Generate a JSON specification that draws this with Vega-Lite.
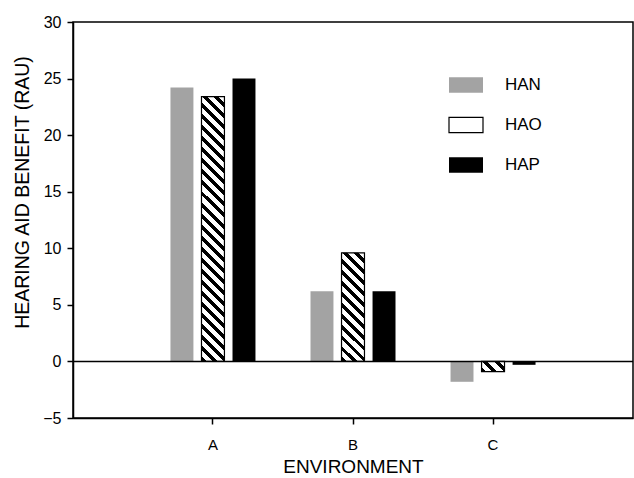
{
  "$schema": "https://vega.github.io/schema/vega-lite/v6.json",
  "width": 560,
  "height": 396,
  "autosize": {"type": "none"},
  "padding": {"left": 73, "top": 22, "right": 1, "bottom": 60},
  "background": "white",
  "config": {
    "view": {"stroke": "black", "strokeWidth": 1.5},
    "font": "Liberation Sans",
    "axis": {
      "domainColor": "black", "domainWidth": 1.5, "tickColor": "black", "tickWidth": 1.5,
      "labelColor": "black", "titleColor": "black", "labelFont": "Liberation Sans", "titleFont": "Liberation Sans",
      "titleFontWeight": "normal", "grid": false
    }
  },
  "data": {"values": [
    {"env": "A", "aid": "HAN", "value": 24.2},
    {"env": "A", "aid": "HAO", "value": 23.4},
    {"env": "A", "aid": "HAP", "value": 25.0},
    {"env": "B", "aid": "HAN", "value": 6.2},
    {"env": "B", "aid": "HAO", "value": 9.6},
    {"env": "B", "aid": "HAP", "value": 6.2},
    {"env": "C", "aid": "HAN", "value": -1.8},
    {"env": "C", "aid": "HAO", "value": -0.9},
    {"env": "C", "aid": "HAP", "value": -0.3}
  ]},
  "encoding": {
    "x": {"field": "env", "type": "nominal",
      "scale": {"paddingInner": 0.393, "paddingOuter": 0.696},
      "axis": {"title": "ENVIRONMENT", "labelAngle": 0, "labelFontSize": 15, "titleFontSize": 19, "tickSize": 6, "labelPadding": 13, "titlePadding": 5}},
    "xOffset": {"field": "aid", "type": "nominal", "scale": {"domain": ["HAN", "HAO", "HAP"], "paddingInner": 0.26, "paddingOuter": 0}},
    "y": {"field": "value", "type": "quantitative",
      "scale": {"domain": [-5, 30], "nice": false, "zero": false},
      "axis": {"title": "HEARING AID BENEFIT (RAU)", "values": [-5, 0, 5, 10, 15, 20, 25, 30], "labelFontSize": 16, "tickSize": 6, "labelPadding": 6, "titleFontSize": 19.5, "titleX": -51, "titleY": 170, "titleBaseline": "middle", "titleAlign": "center", "titleAngle": -90}}
  },
  "layer": [
    {
      "mark": {"type": "bar"},
      "encoding": {
        "fill": {"field": "aid", "type": "nominal",
          "scale": {"domain": ["HAN", "HAO", "HAP"], "range": ["#a3a3a3", "#ffffff", "#000000"]},
          "legend": {
            "title": null, "orient": "none", "legendX": 375, "legendY": 45,
            "symbolType": "M-1,-0.45H1V0.45H-1Z", "symbolSize": 1156, "symbolStrokeWidth": 1.2,
            "labelFont": "Liberation Sans", "labelFontSize": 17, "labelColor": "black", "labelOffset": 21,
            "rowPadding": 11,
            "encode": {"symbols": {"update": {
              "stroke": {"signal": "datum.value === 'HAO' ? 'black' : 'transparent'"}
            }}}
          }
        }
      }
    },
    {
      "transform": [{"filter": "datum.aid === 'HAO' && datum.env === 'A'"}],
      "mark": {"type": "bar", "stroke": "black", "strokeWidth": 1.2, "fill": {"gradient": "linear", "x1": 0, "y1": 1, "x2": 0.0933, "y2": -0.0784, "stops": [
        {"offset": 0, "color": "#000"}, {"offset": 0.01731, "color": "#000"}, {"offset": 0.01731, "color": "#fff"}, {"offset": 0.03846, "color": "#fff"},
        {"offset": 0.03846, "color": "#000"}, {"offset": 0.05577, "color": "#000"}, {"offset": 0.05577, "color": "#fff"}, {"offset": 0.07692, "color": "#fff"},
        {"offset": 0.07692, "color": "#000"}, {"offset": 0.09423, "color": "#000"}, {"offset": 0.09423, "color": "#fff"}, {"offset": 0.11538, "color": "#fff"},
        {"offset": 0.11538, "color": "#000"}, {"offset": 0.13269, "color": "#000"}, {"offset": 0.13269, "color": "#fff"}, {"offset": 0.15385, "color": "#fff"},
        {"offset": 0.15385, "color": "#000"}, {"offset": 0.17115, "color": "#000"}, {"offset": 0.17115, "color": "#fff"}, {"offset": 0.19231, "color": "#fff"},
        {"offset": 0.19231, "color": "#000"}, {"offset": 0.20962, "color": "#000"}, {"offset": 0.20962, "color": "#fff"}, {"offset": 0.23077, "color": "#fff"},
        {"offset": 0.23077, "color": "#000"}, {"offset": 0.24808, "color": "#000"}, {"offset": 0.24808, "color": "#fff"}, {"offset": 0.26923, "color": "#fff"},
        {"offset": 0.26923, "color": "#000"}, {"offset": 0.28654, "color": "#000"}, {"offset": 0.28654, "color": "#fff"}, {"offset": 0.30769, "color": "#fff"},
        {"offset": 0.30769, "color": "#000"}, {"offset": 0.325, "color": "#000"}, {"offset": 0.325, "color": "#fff"}, {"offset": 0.34615, "color": "#fff"},
        {"offset": 0.34615, "color": "#000"}, {"offset": 0.36346, "color": "#000"}, {"offset": 0.36346, "color": "#fff"}, {"offset": 0.38462, "color": "#fff"},
        {"offset": 0.38462, "color": "#000"}, {"offset": 0.40192, "color": "#000"}, {"offset": 0.40192, "color": "#fff"}, {"offset": 0.42308, "color": "#fff"},
        {"offset": 0.42308, "color": "#000"}, {"offset": 0.44038, "color": "#000"}, {"offset": 0.44038, "color": "#fff"}, {"offset": 0.46154, "color": "#fff"},
        {"offset": 0.46154, "color": "#000"}, {"offset": 0.47885, "color": "#000"}, {"offset": 0.47885, "color": "#fff"}, {"offset": 0.5, "color": "#fff"},
        {"offset": 0.5, "color": "#000"}, {"offset": 0.51731, "color": "#000"}, {"offset": 0.51731, "color": "#fff"}, {"offset": 0.53846, "color": "#fff"},
        {"offset": 0.53846, "color": "#000"}, {"offset": 0.55577, "color": "#000"}, {"offset": 0.55577, "color": "#fff"}, {"offset": 0.57692, "color": "#fff"},
        {"offset": 0.57692, "color": "#000"}, {"offset": 0.59423, "color": "#000"}, {"offset": 0.59423, "color": "#fff"}, {"offset": 0.61538, "color": "#fff"},
        {"offset": 0.61538, "color": "#000"}, {"offset": 0.63269, "color": "#000"}, {"offset": 0.63269, "color": "#fff"}, {"offset": 0.65385, "color": "#fff"},
        {"offset": 0.65385, "color": "#000"}, {"offset": 0.67115, "color": "#000"}, {"offset": 0.67115, "color": "#fff"}, {"offset": 0.69231, "color": "#fff"},
        {"offset": 0.69231, "color": "#000"}, {"offset": 0.70962, "color": "#000"}, {"offset": 0.70962, "color": "#fff"}, {"offset": 0.73077, "color": "#fff"},
        {"offset": 0.73077, "color": "#000"}, {"offset": 0.74808, "color": "#000"}, {"offset": 0.74808, "color": "#fff"}, {"offset": 0.76923, "color": "#fff"},
        {"offset": 0.76923, "color": "#000"}, {"offset": 0.78654, "color": "#000"}, {"offset": 0.78654, "color": "#fff"}, {"offset": 0.80769, "color": "#fff"},
        {"offset": 0.80769, "color": "#000"}, {"offset": 0.825, "color": "#000"}, {"offset": 0.825, "color": "#fff"}, {"offset": 0.84615, "color": "#fff"},
        {"offset": 0.84615, "color": "#000"}, {"offset": 0.86346, "color": "#000"}, {"offset": 0.86346, "color": "#fff"}, {"offset": 0.88462, "color": "#fff"},
        {"offset": 0.88462, "color": "#000"}, {"offset": 0.90192, "color": "#000"}, {"offset": 0.90192, "color": "#fff"}, {"offset": 0.92308, "color": "#fff"},
        {"offset": 0.92308, "color": "#000"}, {"offset": 0.94038, "color": "#000"}, {"offset": 0.94038, "color": "#fff"}, {"offset": 0.96154, "color": "#fff"},
        {"offset": 0.96154, "color": "#000"}, {"offset": 0.97885, "color": "#000"}, {"offset": 0.97885, "color": "#fff"}, {"offset": 1, "color": "#fff"}
      ]}}
    },
    {
      "transform": [{"filter": "datum.aid === 'HAO' && datum.env === 'B'"}],
      "mark": {"type": "bar", "stroke": "black", "strokeWidth": 1.2, "fill": {"gradient": "linear", "x1": 0, "y1": 1, "x2": 0.2445, "y2": -0.1593, "stops": [
        {"offset": 0, "color": "#000"}, {"offset": 0.0375, "color": "#000"}, {"offset": 0.0375, "color": "#fff"}, {"offset": 0.08333, "color": "#fff"},
        {"offset": 0.08333, "color": "#000"}, {"offset": 0.12083, "color": "#000"}, {"offset": 0.12083, "color": "#fff"}, {"offset": 0.16667, "color": "#fff"},
        {"offset": 0.16667, "color": "#000"}, {"offset": 0.20417, "color": "#000"}, {"offset": 0.20417, "color": "#fff"}, {"offset": 0.25, "color": "#fff"},
        {"offset": 0.25, "color": "#000"}, {"offset": 0.2875, "color": "#000"}, {"offset": 0.2875, "color": "#fff"}, {"offset": 0.33333, "color": "#fff"},
        {"offset": 0.33333, "color": "#000"}, {"offset": 0.37083, "color": "#000"}, {"offset": 0.37083, "color": "#fff"}, {"offset": 0.41667, "color": "#fff"},
        {"offset": 0.41667, "color": "#000"}, {"offset": 0.45417, "color": "#000"}, {"offset": 0.45417, "color": "#fff"}, {"offset": 0.5, "color": "#fff"},
        {"offset": 0.5, "color": "#000"}, {"offset": 0.5375, "color": "#000"}, {"offset": 0.5375, "color": "#fff"}, {"offset": 0.58333, "color": "#fff"},
        {"offset": 0.58333, "color": "#000"}, {"offset": 0.62083, "color": "#000"}, {"offset": 0.62083, "color": "#fff"}, {"offset": 0.66667, "color": "#fff"},
        {"offset": 0.66667, "color": "#000"}, {"offset": 0.70417, "color": "#000"}, {"offset": 0.70417, "color": "#fff"}, {"offset": 0.75, "color": "#fff"},
        {"offset": 0.75, "color": "#000"}, {"offset": 0.7875, "color": "#000"}, {"offset": 0.7875, "color": "#fff"}, {"offset": 0.83333, "color": "#fff"},
        {"offset": 0.83333, "color": "#000"}, {"offset": 0.87083, "color": "#000"}, {"offset": 0.87083, "color": "#fff"}, {"offset": 0.91667, "color": "#fff"},
        {"offset": 0.91667, "color": "#000"}, {"offset": 0.95417, "color": "#000"}, {"offset": 0.95417, "color": "#fff"}, {"offset": 1, "color": "#fff"}
      ]}}
    },
    {
      "transform": [{"filter": "datum.aid === 'HAO' && datum.env === 'C'"}],
      "mark": {"type": "bar", "stroke": "black", "strokeWidth": 1.2, "fill": {"gradient": "linear", "x1": 0, "y1": 1, "x2": 1.206, "y2": 0.4638, "stops": [
        {"offset": 0, "color": "#000"}, {"offset": 0.15, "color": "#000"}, {"offset": 0.15, "color": "#fff"}, {"offset": 0.33333, "color": "#fff"},
        {"offset": 0.33333, "color": "#000"}, {"offset": 0.48333, "color": "#000"}, {"offset": 0.48333, "color": "#fff"}, {"offset": 0.66667, "color": "#fff"},
        {"offset": 0.66667, "color": "#000"}, {"offset": 0.81667, "color": "#000"}, {"offset": 0.81667, "color": "#fff"}, {"offset": 1, "color": "#fff"}
      ]}}
    },
    {
      "data": {"values": [{"zero": 0}]},
      "mark": {"type": "rule", "color": "black", "strokeWidth": 1.5},
      "encoding": {"x": null, "xOffset": null, "y": {"field": "zero", "type": "quantitative"}}
    }
  ]
}
